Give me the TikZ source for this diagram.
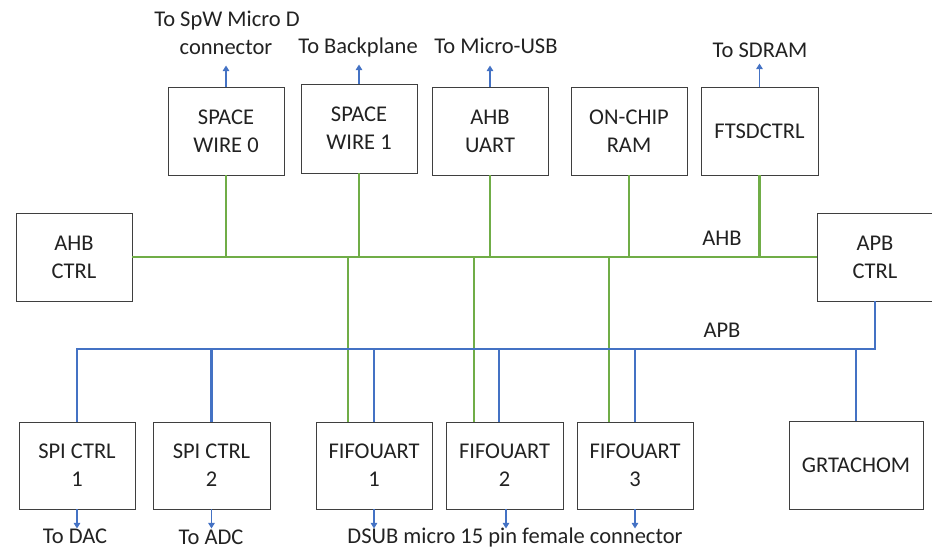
\documentclass[tikz,border=0pt]{standalone}
\usepackage{fontspec}
\setmainfont{Carlito}
\usetikzlibrary{arrows.meta}
\definecolor{busgreen}{HTML}{70AD47}
\definecolor{busblue}{HTML}{4472C4}
\definecolor{edgegray}{HTML}{3F3F3F}
\definecolor{inkgray}{HTML}{222222}
\begin{document}
\begin{tikzpicture}[x=1pt, y=-1pt,
  font=\fontsize{22.5}{28}\selectfont,
  blk/.style={draw=edgegray, line width=0.9pt, minimum width=116pt,
    minimum height=88pt, inner sep=0pt, align=center, text=inkgray},
  ahbline/.style={busgreen, line width=2.5pt},
  apbline/.style={busblue, line width=2.5pt},
  outarrow/.style={busblue, line width=1.2pt, -{Triangle[width=6.5pt,length=5.5pt]}},
  lbl/.style={inner sep=0pt, text=inkgray, anchor=base}]
\useasboundingbox (0,0) rectangle (932,549);

% AHB masters/slaves on top row
\node[blk] (spw0)   at (226,131)   {SPACE\\WIRE 0};
\node[blk, minimum height=89pt] (spw1) at (359,128.5) {SPACE\\WIRE 1};
\node[blk] (uart)   at (490,131)   {AHB\\UART};
\node[blk] (ram)    at (629,131)   {ON-CHIP\\RAM};
\node[blk, minimum width=117pt] (sdctrl) at (759.5,131) {FTSDCTRL};

% bus controllers
\node[blk] (ahbctrl) at (74,257)  {AHB\\CTRL};
\node[blk] (apbctrl) at (875,257) {APB\\CTRL};

% peripherals on bottom row
\node[blk, minimum height=87pt] (spi1)  at (77,465.5)    {SPI CTRL\\1};
\node[blk, minimum width=117pt, minimum height=87pt] (spi2) at (211.5,465.5) {SPI CTRL\\2};
\node[blk, minimum height=87pt] (fifo1) at (374,465.5)   {FIFOUART\\1};
\node[blk, minimum width=117pt, minimum height=87pt] (fifo2) at (504.5,465.5) {FIFOUART\\2};
\node[blk, minimum height=87pt] (fifo3) at (635,465.5)   {FIFOUART\\3};
\node[blk, minimum width=134pt] (tacho) at (856,465)     {GRTACHOM};

% AHB bus and its taps
\draw[ahbline] (ahbctrl.east) -- (apbctrl.west);
\foreach \n in {spw0,spw1,uart,ram,sdctrl}
  \draw[ahbline] (\n.south) -- (\n.south |- ahbctrl.east);
\draw[ahbline] ([xshift=-26pt]fifo1.north) -- ([xshift=-26pt]fifo1.north |- ahbctrl.east);
\draw[ahbline] ([xshift=-30.5pt]fifo2.north) -- ([xshift=-30.5pt]fifo2.north |- ahbctrl.east);
\draw[ahbline] ([xshift=-26pt]fifo3.north) -- ([xshift=-26pt]fifo3.north |- ahbctrl.east);
\node[lbl] (ahblabel) at (722,245) {AHB};

% APB bus and its taps
\coordinate (apbbus) at (77,349);
\draw[apbline] (apbctrl.south) |- (apbbus) -- (spi1.north);
\foreach \n in {spi2,fifo1,fifo3,tacho}
  \draw[apbline] (\n.north) -- (\n.north |- apbbus);
\draw[apbline] ([xshift=-5.5pt]fifo2.north) -- ([xshift=-5.5pt]fifo2.north |- apbbus);
\node[lbl] (apblabel) at (722,337) {APB};

% external connections, top
\draw[outarrow] (spw0.north) -- ++(0,-21);
\draw[outarrow] (spw1.north) -- ++(0,-19);
\draw[outarrow] (uart.north) -- ++(0,-21);
\draw[outarrow] (sdctrl.north) -- ++(0,-23);
\node[lbl] (t1a) at (227,26) {To SpW Micro D};
\node[lbl] (t1b) at (226,54) {connector};
\node[lbl] (t2)  at (358,53) {To Backplane};
\node[lbl] (t3)  at (496,53) {To Micro-USB};
\node[lbl] (t4)  at (760,57) {To SDRAM};

% external connections, bottom
\draw[outarrow] (spi1.south)  -- ++(0,19);
\draw[outarrow] (spi2.south)  -- ++(0,19);
\draw[outarrow] (fifo1.south) -- ++(0,19);
\draw[outarrow] ([xshift=1.5pt]fifo2.south) -- ++(0,19);
\draw[outarrow] (fifo3.south) -- ++(0,19);
\node[lbl] (b1) at (75,543)  {To DAC};
\node[lbl] (b2) at (211,544) {To ADC};
\node[lbl] (b3) at (515,543) {DSUB micro 15 pin female connector};
\end{tikzpicture}
\end{document}
